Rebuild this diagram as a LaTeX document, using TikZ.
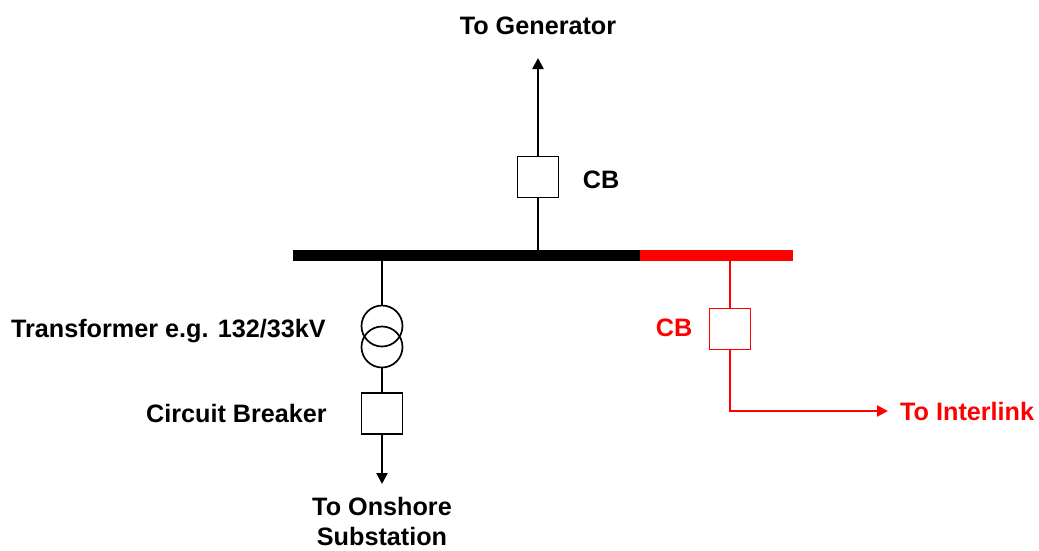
\documentclass[tikz,border=0pt]{standalone}
\usepackage{fontspec}
\setmainfont{Liberation Sans}
\usetikzlibrary{arrows.meta}
\begin{document}
\begin{tikzpicture}[x=1pt,y=-1pt,
  cbbox/.style={draw, line width=1.7pt, minimum size=41pt, inner sep=0pt, fill=white},
  xfmr/.style={draw, circle, line width=1.7pt, minimum size=41pt, inner sep=0pt},
  lbl/.style={font=\fontsize{25.2}{30}\selectfont\bfseries, inner sep=0pt},
  wire/.style={line width=2.4pt},
  arr/.style={-{Triangle[length=11pt,width=11pt]}},
  bus/.style={line width=11pt}]
\useasboundingbox (0,0) rectangle (1039,550);
% busbar
\coordinate (busL) at (293,255.5);
\coordinate (busM) at (640,255.5);
\coordinate (busR) at (793,255.5);
\draw[bus] (busL) -- (busM);
\draw[bus, red] (busM) -- (busR);
% generator branch
\coordinate (tap1) at (538,251);
\coordinate (gen) at (538,58);
\node[cbbox] (cb1) at (538,177) {};
\draw[wire] (tap1) -- (cb1.south);
\draw[wire, arr] (cb1.north) -- (gen);
\node[lbl] (genlbl) at (538,26) {To Generator};
\node[lbl] (cb1lbl) at (601,180) {CB};
% transformer branch
\coordinate (tap2) at (382,260);
\node[xfmr] (tr1) at (382,326) {};
\node[xfmr] (tr2) at (382,347) {};
\node[cbbox] (cb2) at (382,413.5) {};
\coordinate (onsh) at (382,484);
\draw[wire] (tap2) -- (tr1.north);
\draw[wire] (tr2.south) -- (cb2.north);
\draw[wire, arr] (cb2.south) -- (onsh);
\node[lbl, anchor=east] (trlbl) at (326,331) {Transformer e.g. 132/33kV};
\node[lbl, anchor=east] (cblbl) at (327,413) {Circuit Breaker};
\node[lbl, align=center, anchor=south] (onlbl) at (382,546) {To Onshore\\Substation};
% interlink branch
\coordinate (tap3) at (730,260);
\node[cbbox, draw=red] (cb3) at (730,329) {};
\coordinate (corner) at (730,411);
\coordinate (ilink) at (888,411);
\draw[wire, red] (tap3) -- (cb3.north);
\draw[wire, red, arr] (cb3.south) -- (corner) -- (ilink);
\node[lbl, red, anchor=west] (illbl) at (900,411) {To Interlink};
\node[lbl, red] (cb3lbl) at (674,328) {CB};
\end{tikzpicture}
\end{document}
